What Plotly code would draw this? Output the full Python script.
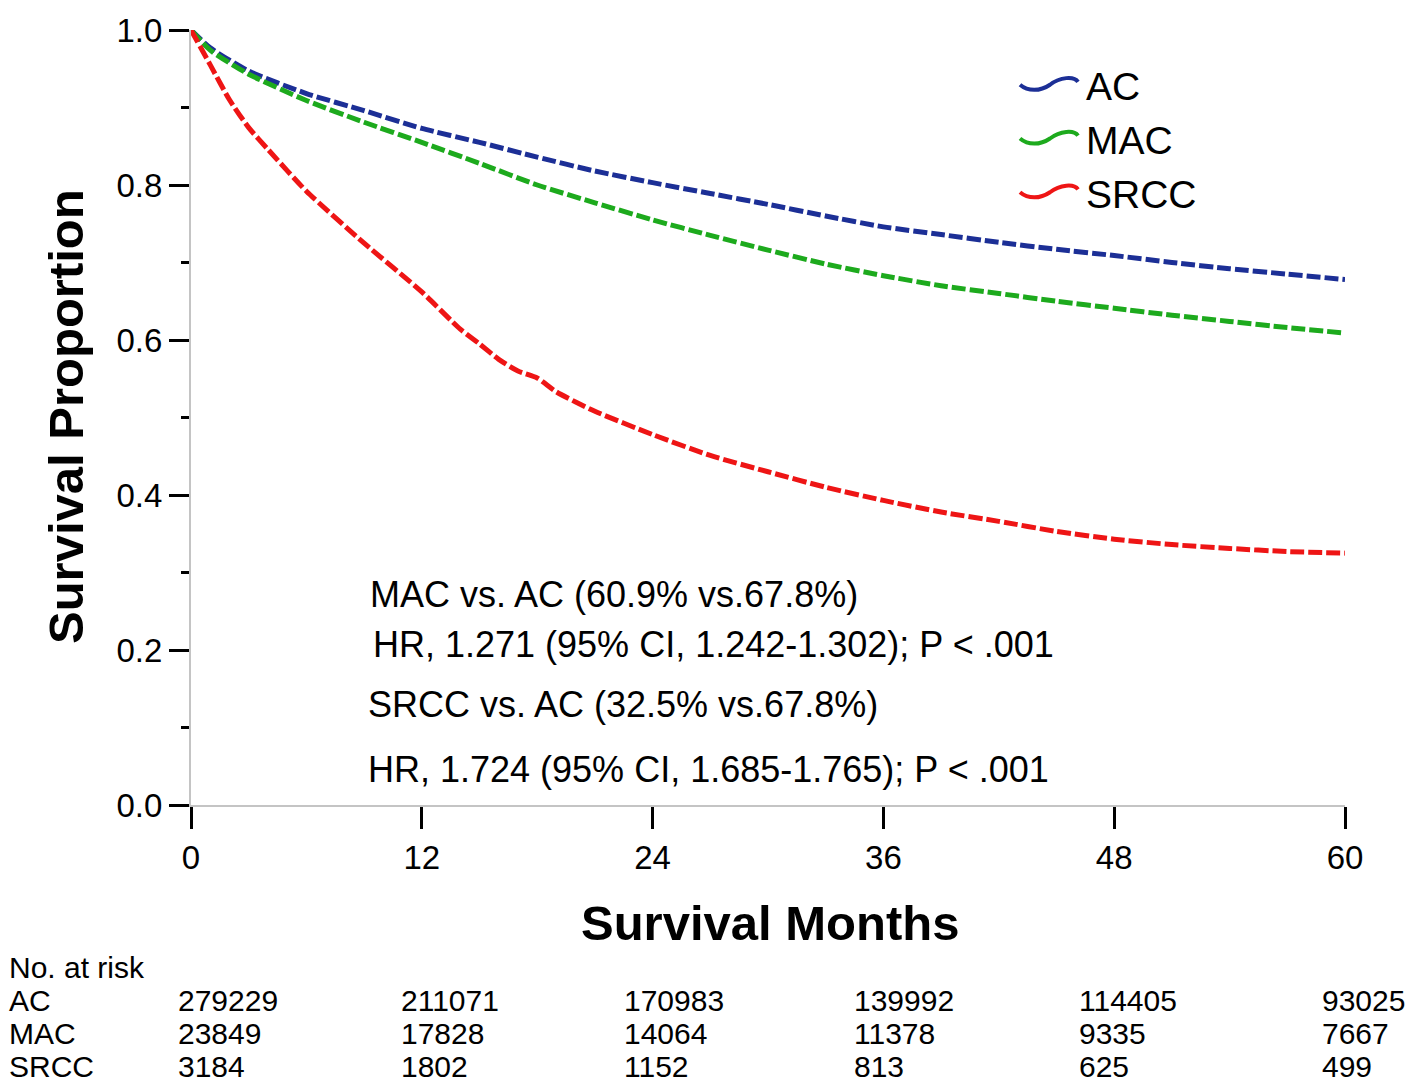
import plotly.graph_objects as go

# ---------------- data ----------------
months_ac = [0, 1, 3, 6, 9, 12, 15, 18, 21, 24, 27, 30, 33, 36, 39, 42, 45, 48, 51, 54, 57, 60]
surv_ac = [1.0, 0.977, 0.947, 0.918, 0.896, 0.873, 0.855, 0.836, 0.818, 0.803, 0.789, 0.775,
           0.760, 0.746, 0.736, 0.726, 0.717, 0.709, 0.700, 0.692, 0.685, 0.678]

months_mac = [0, 1, 3, 6, 9, 12, 15, 18, 21, 24, 27, 30, 33, 36, 39, 42, 45, 48, 51, 54, 57, 60]
surv_mac = [1.0, 0.974, 0.943, 0.909, 0.881, 0.855, 0.828, 0.800, 0.777, 0.755, 0.735, 0.716,
            0.698, 0.683, 0.670, 0.660, 0.650, 0.641, 0.632, 0.624, 0.616, 0.609]

months_srcc = [0, 1, 2, 3, 4, 6, 9, 12, 14, 15, 16, 17, 18, 19, 21, 24, 27, 30, 33, 36, 39, 42,
               45, 48, 51, 54, 57, 60]
surv_srcc = [1.0, 0.955, 0.910, 0.874, 0.846, 0.792, 0.725, 0.662, 0.614, 0.595, 0.575, 0.560,
             0.551, 0.533, 0.508, 0.478, 0.451, 0.430, 0.410, 0.393, 0.378, 0.366, 0.353, 0.343,
             0.336, 0.331, 0.327, 0.325]

group_names = ["AC", "MAC", "SRCC"]
risk_ac = [279229, 211071, 170983, 139992, 114405, 93025]
risk_mac = [23849, 17828, 14064, 11378, 9335, 7667]
risk_srcc = [3184, 1802, 1152, 813, 625, 499]

x_ticks = [0, 12, 24, 36, 48, 60]
y_ticks = [0.0, 0.2, 0.4, 0.6, 0.8, 1.0]

stat_lines = [
    "MAC vs. AC (60.9% vs.67.8%)",
    "HR, 1.271 (95% CI, 1.242-1.302); P < .001",
    "SRCC vs. AC (32.5% vs.67.8%)",
    "HR, 1.724 (95% CI, 1.685-1.765); P < .001",
]

# ---------------- styles / layout ----------------
PAGE_OFF = 8                          # browser body margin
W, H = 1418 - PAGE_OFF, 1090 - PAGE_OFF
PL, PR, PT, PB = 191, 1345, 12, 805   # plot-area box in page pixels
FONT = "Liberation Sans, Arial, sans-serif"
colors = ["#1c2f96", "#1daa1d", "#ee1515"]


def px2paper(px, py):
    return (px - PL) / (PR - PL), (PB - py) / (PB - PT)


fig = go.Figure()
for xs, ys, name, col in [(months_ac, surv_ac, "AC", colors[0]),
                          (months_mac, surv_mac, "MAC", colors[1]),
                          (months_srcc, surv_srcc, "SRCC", colors[2])]:
    fig.add_trace(go.Scatter(x=xs, y=ys, mode="lines", name=name, showlegend=False,
                             line=dict(color=col, width=5, dash="14px,4px", shape="spline",
                                       smoothing=0.6)))

annotations = []
shapes = []

# custom legend with wavy strokes
legend_rows_y = [70, 125, 180]
for name, col, cy in zip(group_names, colors, legend_rows_y):
    pts = [(1020, cy - 2), (1028, cy + 5), (1040, cy + 5), (1050, cy - 2),
           (1060, cy - 10), (1074, cy - 11), (1078, cy - 5)]
    p = [px2paper(a, b) for a, b in pts]
    path = "M {},{} C {},{} {},{} {},{} C {},{} {},{} {},{}".format(
        p[0][0], p[0][1], p[1][0], p[1][1], p[2][0], p[2][1], p[3][0], p[3][1],
        p[4][0], p[4][1], p[5][0], p[5][1], p[6][0], p[6][1])
    shapes.append(dict(type="path", xref="paper", yref="paper", path=path,
                       line=dict(color=col, width=4)))
    lx, ly = px2paper(1084, cy)
    annotations.append(dict(x=lx, y=ly, xref="paper", yref="paper", text=name,
                            showarrow=False, xanchor="left", yanchor="middle",
                            font=dict(family=FONT, size=39, color="black")))

# statistics text
stat_pos = [(368, 590), (371, 641), (366, 702), (366, 769)]
for txt, (sx, sy) in zip(stat_lines, stat_pos):
    ax, ay = px2paper(sx, sy)
    annotations.append(dict(x=ax, y=ay, xref="paper", yref="paper", text=txt,
                            showarrow=False, xanchor="left", yanchor="middle",
                            font=dict(family=FONT, size=36, color="black")))

# axis titles
tx, ty = px2paper(770, 926)
annotations.append(dict(x=tx, y=ty, xref="paper", yref="paper", text="<b>Survival Months</b>",
                        showarrow=False, xanchor="center", yanchor="middle",
                        font=dict(family=FONT, size=49, color="black")))
tx, ty = px2paper(66, 408)
annotations.append(dict(x=tx, y=ty, xref="paper", yref="paper", text="<b>Survival Proportion</b>",
                        showarrow=False, xanchor="center", yanchor="middle", textangle=-90,
                        font=dict(family=FONT, size=49, color="black")))

# risk table
col_px = [177, 400, 623, 853, 1078, 1321]
row_py = [1005, 1039, 1073]
TBL = 30
hx, hy = px2paper(PAGE_OFF, 971)
annotations.append(dict(x=hx, y=hy, xref="paper", yref="paper", text="No. at risk",
                        showarrow=False, xanchor="left", yanchor="middle", borderpad=0,
                        font=dict(family=FONT, size=TBL, color="black")))
for name, vals, ry in zip(group_names, [risk_ac, risk_mac, risk_srcc], row_py):
    nx, ny = px2paper(PAGE_OFF, ry)
    annotations.append(dict(x=nx, y=ny, xref="paper", yref="paper", text=name,
                            showarrow=False, xanchor="left", yanchor="middle", borderpad=0,
                            font=dict(family=FONT, size=TBL, color="black")))
    for v, cx in zip(vals, col_px):
        vx, vy = px2paper(cx, ry)
        annotations.append(dict(x=vx, y=vy, xref="paper", yref="paper", text=str(v),
                                showarrow=False, xanchor="left", yanchor="middle", borderpad=0,
                                font=dict(family=FONT, size=TBL, color="black")))

fig.update_layout(
    width=W, height=H,
    margin=dict(l=PL - PAGE_OFF, r=1418 - PR, t=PT - PAGE_OFF, b=1090 - PB, pad=0),
    paper_bgcolor="white", plot_bgcolor="white",
    showlegend=False,
    annotations=annotations,
    shapes=shapes,
    font=dict(family=FONT, color="black"),
)
fig.update_xaxes(range=[0, 60], tickvals=x_ticks, ticktext=[str(t) for t in x_ticks],
                 showgrid=False, zeroline=False, showline=True, linecolor="#c4c4c4", linewidth=2,
                 ticks="outside", ticklen=22, tickwidth=3, tickcolor="black",
                 ticklabeloverflow="allow",
                 tickfont=dict(family=FONT, size=33, color="black"))
fig.update_yaxes(range=[0, 1.0], tickvals=y_ticks, ticktext=["%.1f" % t for t in y_ticks],
                 showgrid=False, zeroline=False, showline=True, linecolor="#c4c4c4", linewidth=2,
                 ticks="outside", ticklen=20, tickwidth=3, tickcolor="black",
                 ticklabeloverflow="allow",
                 minor=dict(dtick=0.1, ticks="outside", ticklen=8, tickwidth=3, tickcolor="black"),
                 tickfont=dict(family=FONT, size=33, color="black"))

fig.write_html("out.html")
